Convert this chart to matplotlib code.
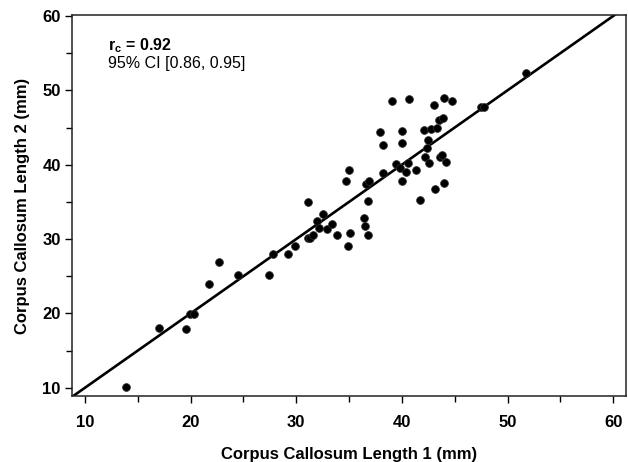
import numpy as np
import matplotlib
matplotlib.use('Agg')
import matplotlib.pyplot as plt
from matplotlib.ticker import MultipleLocator

# Corpus callosum length, reader 1 vs reader 2 (mm)
length_1 = [13.9, 17.0, 19.6, 19.9, 20.3, 21.7, 22.7, 24.5, 27.4, 27.8,
            29.2, 29.9, 31.1, 31.1, 31.3, 31.6, 32.5, 32.0, 32.2, 32.9,
            33.4, 33.9, 34.9, 35.1, 34.7, 35.0, 36.4, 36.5, 36.8, 36.8,
            36.6, 36.9, 38.2, 37.9, 38.2, 39.1, 40.7, 39.4, 39.8, 40.0,
            40.4, 40.6, 40.0, 40.0, 41.3, 41.7, 42.1, 42.5, 42.4, 42.2,
            42.6, 42.8, 43.3, 43.0, 43.5, 43.9, 44.0, 44.7, 43.1, 44.0,
            43.6, 43.8, 44.2, 47.5, 47.8, 51.7]
length_2 = [10.1, 18.1, 17.9, 19.9, 19.9, 23.9, 26.9, 25.2, 25.1, 28.0,
            28.0, 29.1, 30.2, 35.0, 30.2, 30.6, 33.4, 32.4, 31.5, 31.4,
            32.0, 30.6, 29.1, 30.8, 37.8, 39.3, 32.8, 31.7, 30.6, 35.1,
            37.4, 37.8, 38.9, 44.4, 42.6, 48.5, 48.8, 40.1, 39.5, 37.8,
            39.0, 40.2, 44.5, 42.9, 39.3, 35.3, 44.6, 43.3, 42.3, 41.1,
            40.2, 44.8, 44.9, 48.0, 46.0, 46.3, 49.0, 48.5, 36.7, 37.5,
            41.0, 41.3, 40.3, 47.7, 47.8, 52.3]

rc_text = r'r$_{\mathbf{c}}$ = 0.92'
ci_text = '95% CI [0.86, 0.95]'

plt.rcParams['font.family'] = ['Liberation Sans', 'DejaVu Sans']
plt.rcParams['mathtext.fontset'] = 'custom'
plt.rcParams['mathtext.bf'] = 'Liberation Sans:bold'
plt.rcParams['mathtext.rm'] = 'Liberation Sans'

fig = plt.figure(figsize=(6.28, 4.62), dpi=100)
ax = fig.add_axes([0.1146, 0.143, 0.882, 0.8245])

ax.scatter(length_1, length_2, s=32, color='black', edgecolors='#333333',
           linewidths=0.5, zorder=3)

# line of identity
ident = np.array([0, 70])
ax.plot(ident, ident, color='black', linewidth=1.9, zorder=2)

ax.set_xlim(8.77, 61.2)
ax.set_ylim(8.9, 60.13)

ax.xaxis.set_major_locator(MultipleLocator(10))
ax.xaxis.set_minor_locator(MultipleLocator(5))
ax.yaxis.set_major_locator(MultipleLocator(10))
ax.yaxis.set_minor_locator(MultipleLocator(5))
ax.tick_params(which='major', direction='out', length=5, width=1,
               labelsize=12)
ax.tick_params(axis='x', which='major', pad=9)
ax.tick_params(axis='y', which='major', pad=3)
ax.tick_params(which='minor', direction='out', length=4, width=1)
for lab in ax.get_xticklabels() + ax.get_yticklabels():
    lab.set_fontweight('bold')
for sp in ax.spines.values():
    sp.set_linewidth(1.1)
    sp.set_color('#222222')

ax.set_xlabel('Corpus Callosum Length 1 (mm)', fontsize=12,
              fontweight='bold', labelpad=12)
ax.set_ylabel('Corpus Callosum Length 2 (mm)', fontsize=12,
              fontweight='bold', labelpad=9)

ax.text(0.065, 0.908, rc_text, transform=ax.transAxes,
        fontsize=11.5, fontweight='bold', va='baseline')
ax.text(0.065, 0.862, ci_text, transform=ax.transAxes,
        fontsize=11.5, va='baseline')

fig.savefig('out.png', dpi=100)
